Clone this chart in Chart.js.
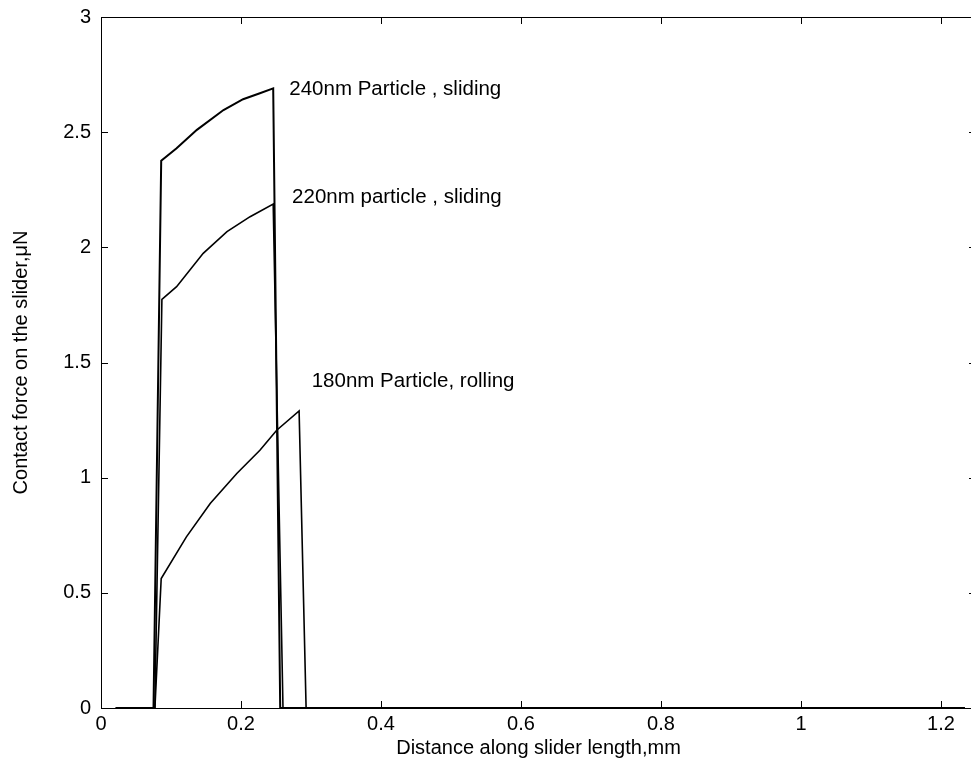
<!DOCTYPE html>
<html>
<head>
<meta charset="utf-8">
<script src="https://cdn.jsdelivr.net/npm/chart.js@4"></script>
<style>
  html, body { margin: 0; padding: 0; background: #fff; overflow: hidden; }
  #wrap { width: 1000px; height: 766px; }
</style>
</head>
<body>
<div id="wrap"><canvas id="force-chart"></canvas></div>
<script>
// contact force curves, distance in mm, force in uN
const x240 = [0.021, 0.075, 0.086, 0.108, 0.137, 0.175, 0.203, 0.227, 0.246, 0.256, 1.234];
const y240 = [0, 0, 2.376, 2.43, 2.51, 2.596, 2.643, 2.669, 2.69, 0, 0];

const x220 = [0.021, 0.077, 0.087, 0.108, 0.146, 0.18, 0.213, 0.246, 0.26, 1.234];
const y220 = [0, 0, 1.774, 1.829, 1.974, 2.068, 2.133, 2.188, 0, 0];

const x180 = [0.021, 0.077, 0.086, 0.122, 0.156, 0.194, 0.227, 0.251, 0.283, 0.293, 1.234];
const y180 = [0, 0, 0.562, 0.743, 0.888, 1.018, 1.119, 1.206, 1.29, 0, 0];

const xTicks = [0, 0.2, 0.4, 0.6, 0.8, 1, 1.2];
const yTicks = [0, 0.5, 1, 1.5, 2, 2.5, 3];

const labelText = ['240nm Particle , sliding', '220nm particle , sliding', '180nm Particle, rolling'];
const labelX = [0.269, 0.273, 0.301];
const labelY = [2.688, 2.218, 1.419];

const FONT = 'Arial, "Liberation Sans", sans-serif';

function toPoints(xs, ys) {
    return xs.map((x, i) => ({ x: x, y: ys[i] }));
}

function series(xs, ys, width) {
    return {
        data: toPoints(xs, ys),
        borderColor: '#000',
        borderWidth: width,
        pointRadius: 0,
        tension: 0,
        showLine: true,
        fill: false
    };
}

// box around the plot with inward ticks on all four sides
const frame = {
    id: 'frame',
    afterDatasetsDraw(chart) {
        const ctx = chart.ctx;
        const a = chart.chartArea;
        const xs = chart.scales.x, ys = chart.scales.y;
        const len = 7;
        ctx.save();
        ctx.strokeStyle = '#000';
        ctx.lineWidth = 1;
        ctx.strokeRect(a.left + 0.5, a.top + 0.5, a.right - a.left, a.bottom - a.top);
        ctx.beginPath();
        xTicks.forEach(v => {
            const px = Math.round(xs.getPixelForValue(v)) + 0.5;
            ctx.moveTo(px, a.bottom); ctx.lineTo(px, a.bottom - len);
            ctx.moveTo(px, a.top); ctx.lineTo(px, a.top + len);
        });
        yTicks.forEach(v => {
            const py = Math.round(ys.getPixelForValue(v)) + 0.5;
            ctx.moveTo(a.left, py); ctx.lineTo(a.left + len, py);
            ctx.moveTo(a.right, py); ctx.lineTo(a.right - len, py);
        });
        ctx.stroke();

        // curve labels
        ctx.fillStyle = '#000';
        ctx.font = '20.5px ' + FONT;
        ctx.textBaseline = 'middle';
        ctx.textAlign = 'left';
        labelText.forEach((t, i) => {
            ctx.fillText(t, xs.getPixelForValue(labelX[i]), ys.getPixelForValue(labelY[i]));
        });
        ctx.restore();
    }
};

new Chart(document.getElementById('force-chart').getContext('2d'), {
    type: 'scatter',
    data: {
        datasets: [
            series(x240, y240, 2),
            series(x220, y220, 1.6),
            series(x180, y180, 1.6)
        ]
    },
    options: {
        responsive: true,
        maintainAspectRatio: false,
        animation: false,
        layout: { padding: { top: 17, right: 24, left: 0, bottom: 0 } },
        plugins: {
            legend: { display: false },
            tooltip: { enabled: false }
        },
        scales: {
            x: {
                type: 'linear',
                min: 0,
                max: 1.25,
                afterBuildTicks: scale => { scale.ticks = xTicks.map(v => ({ value: v })); },
                afterFit: scale => {
                    scale.height = 58;
                    scale.paddingLeft = 0;
                    scale.paddingRight = 0;
                },
                grid: { display: false, drawTicks: false },
                border: { display: false },
                ticks: {
                    color: '#000',
                    font: { family: FONT, size: 20 },
                    padding: 4,
                    maxRotation: 0,
                    callback: v => String(v)
                },
                title: {
                    display: true,
                    text: 'Distance along slider length,mm',
                    color: '#000',
                    font: { family: FONT, size: 20 },
                    padding: { top: 0, bottom: 6 }
                }
            },
            y: {
                type: 'linear',
                min: 0,
                max: 3,
                afterBuildTicks: scale => { scale.ticks = yTicks.map(v => ({ value: v })); },
                afterFit: scale => {
                    scale.width = 101;
                    scale.paddingTop = 0;
                    scale.paddingBottom = 0;
                },
                grid: { display: false, drawTicks: false },
                border: { display: false },
                ticks: {
                    color: '#000',
                    font: { family: FONT, size: 20 },
                    padding: 10,
                    callback: v => String(v)
                },
                title: {
                    display: true,
                    text: 'Contact force on the slider,\u03bcN',
                    color: '#000',
                    font: { family: FONT, size: 20 },
                    padding: { top: 9, bottom: 0 }
                }
            }
        }
    },
    plugins: [frame]
});
</script>
</body>
</html>
